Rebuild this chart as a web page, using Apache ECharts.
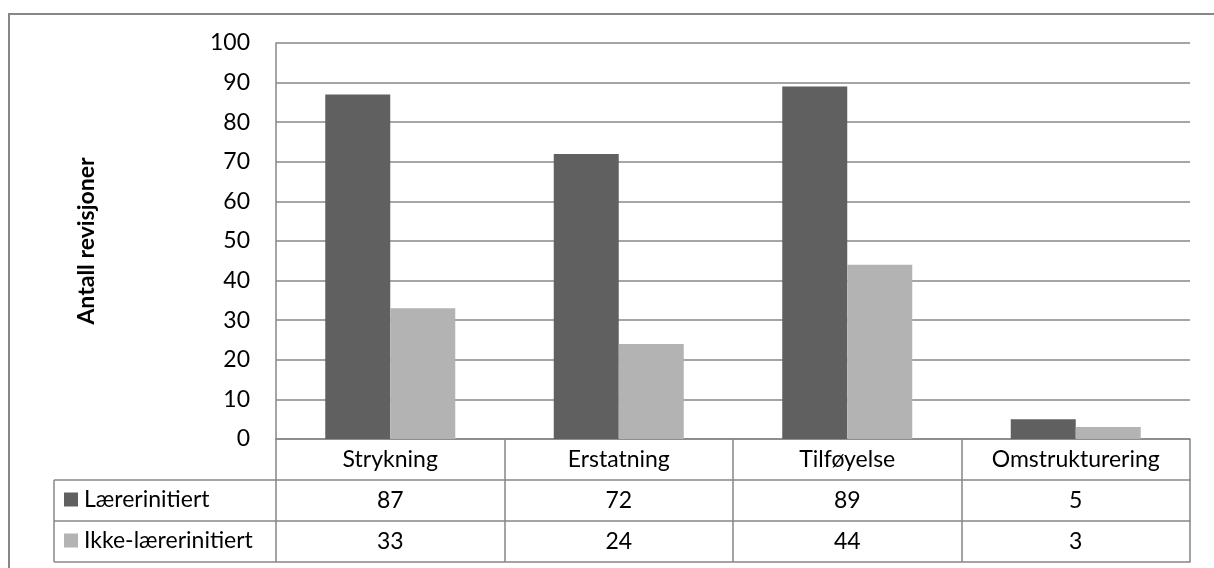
<!DOCTYPE html>
<html><head><meta charset="utf-8">
<script src="https://cdn.jsdelivr.net/npm/echarts@6/dist/echarts.min.js"></script>
<style>html,body{margin:0;padding:0;background:#fff}#c{width:1214px;height:568px}</style>
</head><body><div id="c"></div>
<script>
const categories = ['Strykning', 'Erstatning', 'Tilføyelse', 'Omstrukturering'];
const seriesNames = ['Lærerinitiert', 'Ikke-lærerinitiert'];
const laererValues = [87, 72, 89, 5];
const ikkeLaererValues = [33, 24, 44, 3];
const yTicks = [0, 10, 20, 30, 40, 50, 60, 70, 80, 90, 100];
const yAxisTitle = 'Antall revisjoner';

const FONT = 'Lato';
const FS = 23;
const GRID = { left: 276, right: 24, top: 43, height: 396 };
const ROW = 41;
const TABLE_LEFT = 54;
const LINE = '#878787';
const COLORS = ['#606060', '#b3b3b3'];
const zeroY = GRID.top + GRID.height;
const LEG_LH = 24;

const chart = echarts.init(document.getElementById('c'), null, { renderer: 'canvas' });

function tableAxis(data, offset, showLabel, showTick) {
  return {
    type: 'category', data: data, position: 'bottom', offset: offset,
    boundaryGap: true,
    axisLine: { show: true, lineStyle: { color: LINE, width: 1.5 } },
    axisTick: { show: showTick, length: ROW, interval: 0, lineStyle: { color: LINE, width: 1.5 } },
    axisLabel: { show: showLabel, interval: 0, color: '#000', fontFamily: FONT, fontSize: FS,
      verticalAlign: 'middle', margin: ROW / 2 },
    splitLine: { show: false }
  };
}

const option = {
  animation: false,
  backgroundColor: '#fff',
  textStyle: { fontFamily: FONT },
  grid: { left: GRID.left, right: GRID.right, top: GRID.top, height: GRID.height, containLabel: false },
  legend: {
    orient: 'vertical', left: 64, top: zeroY + ROW + (ROW - LEG_LH) / 2 - 1,
    padding: 0,
    itemWidth: 14, itemHeight: 14, itemGap: ROW - LEG_LH,
    icon: 'rect', selectedMode: false,
    textStyle: { color: '#000', fontFamily: FONT, fontSize: FS, lineHeight: LEG_LH, padding: [0, 0, 0, 1] },
    data: seriesNames
  },
  xAxis: [
    tableAxis(categories, 0, true, true),
    tableAxis(laererValues.map(String), ROW, true, true),
    tableAxis(ikkeLaererValues.map(String), ROW * 2, true, true),
    tableAxis(categories, ROW * 3, false, false)
  ],
  yAxis: {
    type: 'value', min: yTicks[0], max: yTicks[yTicks.length - 1], interval: yTicks[1] - yTicks[0],
    name: yAxisTitle, nameLocation: 'middle', nameGap: 178, nameRotate: 90,
    nameTextStyle: { color: '#000', fontFamily: FONT, fontSize: 23, fontWeight: 'bold' },
    axisLine: { show: true, lineStyle: { color: LINE, width: 1.5 } },
    axisTick: { show: false },
    axisLabel: { color: '#000', fontFamily: FONT, fontSize: FS, margin: 26 },
    splitLine: { show: true, lineStyle: { color: LINE, width: 1.5 } }
  },
  series: [
    { name: seriesNames[0], type: 'bar', data: laererValues, xAxisIndex: 0, barWidth: 65, barGap: '0%',
      itemStyle: { color: COLORS[0] } },
    { name: seriesNames[1], type: 'bar', data: ikkeLaererValues, xAxisIndex: 0, barWidth: 65, barGap: '0%',
      itemStyle: { color: COLORS[1] } }
  ],
  graphic: [
    { type: 'rect', shape: { x: 9, y: 14, width: 1230, height: 600 }, silent: true,
      style: { fill: null, stroke: LINE, lineWidth: 2 } },
    { type: 'line', shape: { x1: TABLE_LEFT, y1: zeroY + ROW, x2: GRID.left, y2: zeroY + ROW }, style: { stroke: LINE, lineWidth: 1.5 } },
    { type: 'line', shape: { x1: TABLE_LEFT, y1: zeroY + ROW * 2, x2: GRID.left, y2: zeroY + ROW * 2 }, style: { stroke: LINE, lineWidth: 1.5 } },
    { type: 'line', shape: { x1: TABLE_LEFT, y1: zeroY + ROW * 3, x2: GRID.left, y2: zeroY + ROW * 3 }, style: { stroke: LINE, lineWidth: 1.5 } },
    { type: 'line', shape: { x1: TABLE_LEFT, y1: zeroY + ROW, x2: TABLE_LEFT, y2: zeroY + ROW * 3 }, style: { stroke: LINE, lineWidth: 1.5 } }
  ]
};
chart.setOption(option);
</script></body></html>
